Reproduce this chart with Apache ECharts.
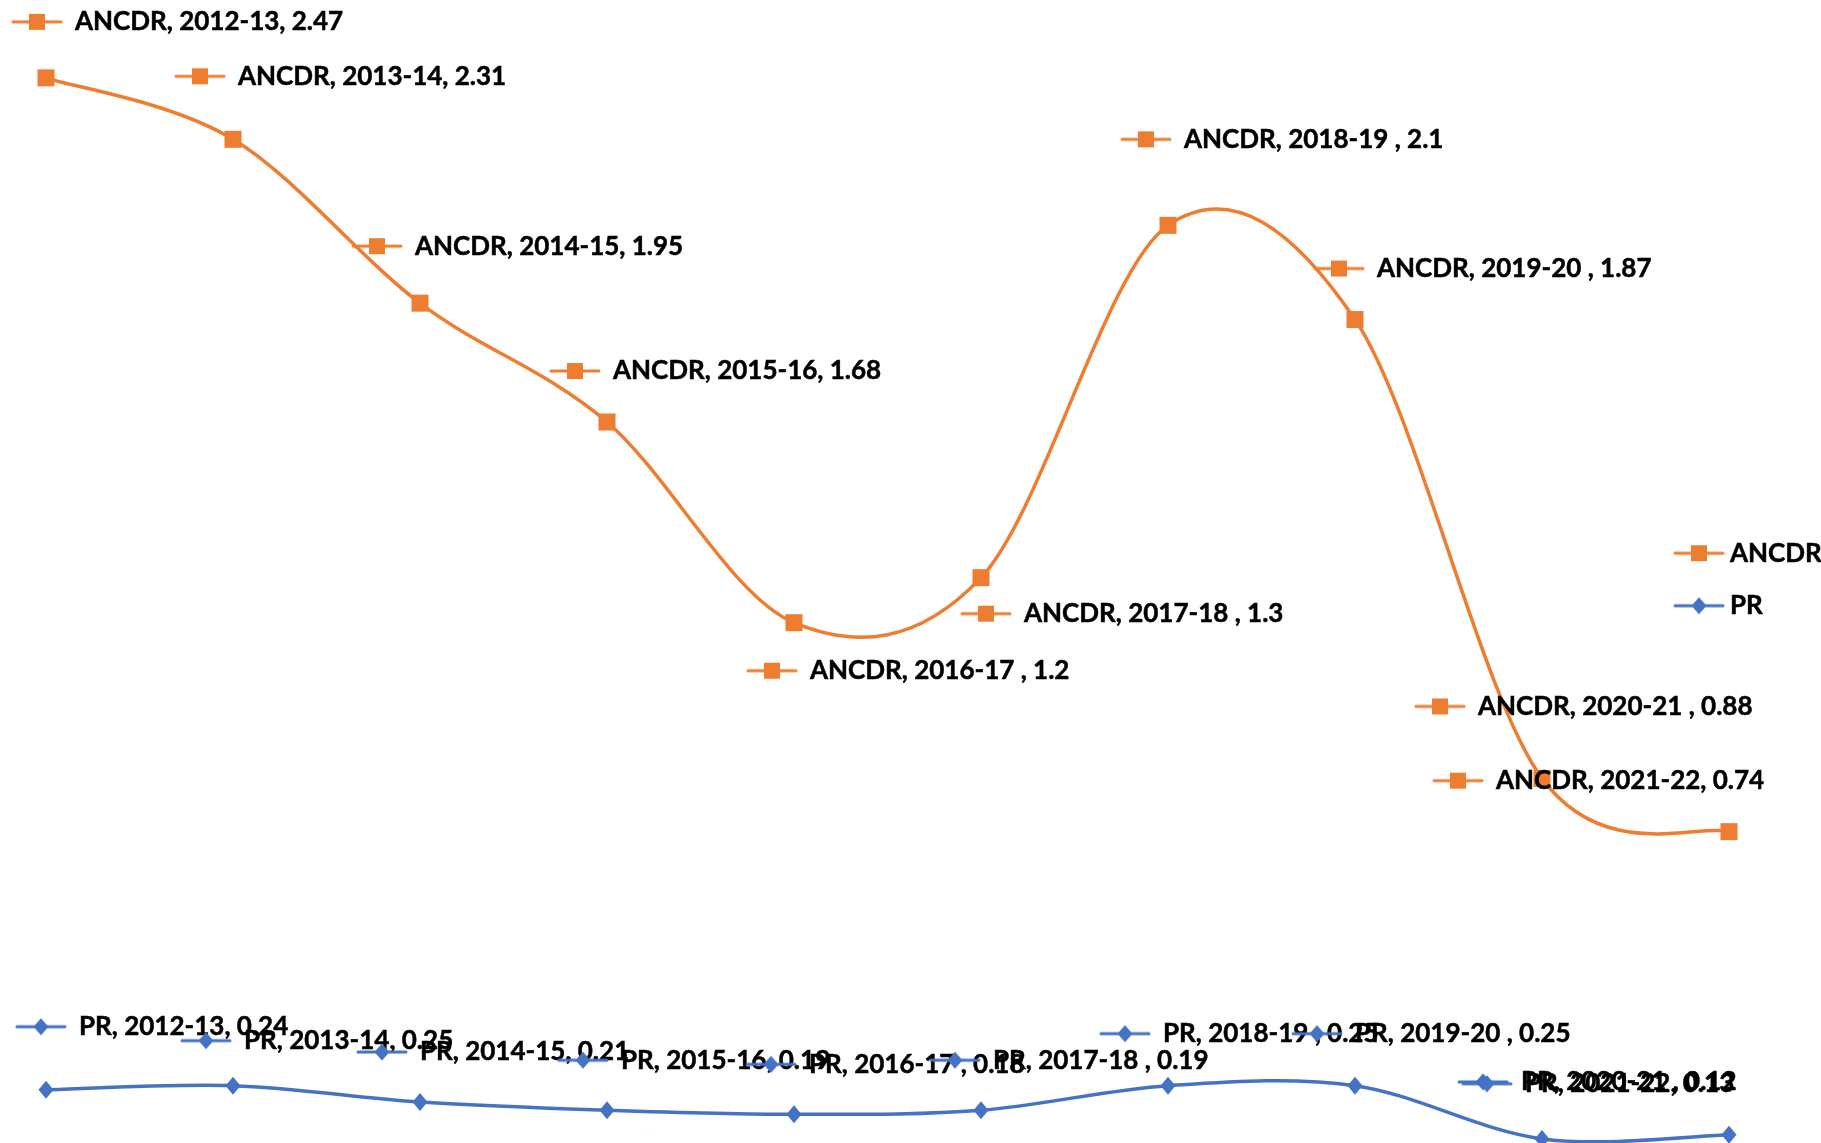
<!DOCTYPE html>
<html>
<head>
<meta charset="utf-8">
<script src="https://cdn.jsdelivr.net/npm/echarts@6/dist/echarts.min.js"></script>
<style>
html,body{margin:0;padding:0;background:#fff;}
#chart{width:1821px;height:1143px;}
</style>
</head>
<body>
<div id="chart"></div>
<script>
// ---- data ----
var categories = ['2012-13','2013-14','2014-15','2015-16','2016-17 ','2017-18 ','2018-19 ','2019-20 ','2020-21 ','2021-22'];
var ancdrValues = [2.47, 2.31, 1.95, 1.68, 1.2, 1.3, 2.1, 1.87, 0.88, 0.74];
var prValues = [0.24, 0.25, 0.21, 0.19, 0.18, 0.19, 0.25, 0.25, 0.12, 0.13];
var seriesNames = ['ANCDR', 'PR'];

// label placements (offset of label's left-middle from point, px)
var ancdrLabelOffsets = [[-35,-56],[-59,-63],[-69,-57],[-58,-51],[-48,48],[-21,36],[-48,-86],[-42,-51],[-128,-72],[-297,-51]];
var prLabelOffsets = [[-31,-63],[-53,-45],[-64,-50],[-50,-50],[-49,-50],[-52,-50],[-69,-52],[-64,-52],[-85,-57],[-268,-51]];

var ORANGE = '#ED7D31', BLUE = '#4472C4';
var FONT = 'Lato, "Open Sans", sans-serif';

// stacked line chart (PR at bottom, ANCDR stacked on top)
var ancdrStacked = ancdrValues.map(function (v, i) { return v + prValues[i]; });

function makeKey(color, shape) {
  var c = document.createElement('canvas');
  c.width = 52; c.height = 18;
  var g = c.getContext('2d');
  g.strokeStyle = color; g.lineWidth = 3; g.lineCap = 'round';
  g.beginPath(); g.moveTo(2, 9); g.lineTo(50, 9); g.stroke();
  g.fillStyle = color;
  if (shape === 'square') {
    g.fillRect(18, 1, 16, 16);
  } else {
    g.beginPath(); g.moveTo(26, 0.5); g.lineTo(33.5, 9); g.lineTo(26, 17.5); g.lineTo(18.5, 9); g.closePath(); g.fill();
  }
  return c;
}
var ancdrKey = makeKey(ORANGE, 'square');
var prKey = makeKey(BLUE, 'diamond');

var textStyleRich = { fontFamily: FONT, fontWeight: 'bold', fontSize: 26, color: '#000',
  textBorderColor: '#000', textBorderWidth: 0.5, padding: [0, 0, 0, 12] };

function labelData(values, offsets, name, key) {
  return values.map(function (v, i) {
    return {
      value: v,
      label: {
        show: true,
        position: 'inside',
        align: 'left',
        verticalAlign: 'middle',
        offset: offsets[i],
        formatter: '{k|}{t|' + name + ', ' + categories[i] + ', ' + v + '}',
        rich: {
          k: { width: 52, height: 18, backgroundColor: { image: key } },
          t: textStyleRich
        }
      }
    };
  });
}

// Excel-style smoothed curve (Catmull-Rom through the points, via the axes' scales)
function curveRenderer(values, color) {
  return function (params, api) {
    var i = params.dataIndex, n = values.length;
    if (i >= n - 1) return null;
    var p = function (k) { k = Math.max(0, Math.min(n - 1, k)); return api.coord([k, values[k]]); };
    var P0 = p(i - 1), P1 = p(i), P2 = p(i + 1), P3 = p(i + 2);
    return {
      type: 'bezierCurve',
      shape: {
        x1: P1[0], y1: P1[1], x2: P2[0], y2: P2[1],
        cpx1: P1[0] + (P2[0] - P0[0]) / 6, cpy1: P1[1] + (P2[1] - P0[1]) / 6,
        cpx2: P2[0] - (P3[0] - P1[0]) / 6, cpy2: P2[1] - (P3[1] - P1[1]) / 6
      },
      style: { fill: null, stroke: color, lineWidth: 3.5 }
    };
  };
}

var chart = echarts.init(document.getElementById('chart'), null, { renderer: 'canvas' });
chart.setOption({
  backgroundColor: '#fff',
  animation: false,
  grid: { left: 46, right: 92, top: 0, bottom: 0, containLabel: false },
  xAxis: { type: 'category', data: categories, boundaryGap: false, show: false },
  yAxis: { type: 'value', min: 0.11, max: 2.9, show: false },
  legend: {
    orient: 'vertical',
    left: 1673, top: 540, padding: 0,
    itemWidth: 52, itemHeight: 18, itemGap: 26,
    textStyle: { fontFamily: FONT, fontWeight: 'bold', fontSize: 26, color: '#000',
      textBorderColor: '#000', textBorderWidth: 0.5 },
    data: [
      { name: 'ANCDR', icon: 'image://' + ancdrKey.toDataURL() },
      { name: 'PR', icon: 'image://' + prKey.toDataURL() }
    ]
  },
  series: [
    {
      name: 'PR', type: 'custom', z: 1, clip: false,
      renderItem: curveRenderer(prValues, BLUE),
      data: prValues.map(function (v, i) { return [i, v]; }),
      itemStyle: { color: BLUE }
    },
    {
      name: 'ANCDR', type: 'custom', z: 1, clip: false,
      renderItem: curveRenderer(ancdrStacked, ORANGE),
      data: ancdrStacked.map(function (v, i) { return [i, v]; }),
      itemStyle: { color: ORANGE }
    },
    {
      name: 'PR points', type: 'line', stack: 'total', z: 3,
      symbol: 'diamond', symbolSize: [15, 18],
      lineStyle: { opacity: 0 },
      itemStyle: { color: BLUE },
      data: labelData(prValues, prLabelOffsets, 'PR', prKey)
    },
    {
      name: 'ANCDR points', type: 'line', stack: 'total', z: 3,
      symbol: 'rect', symbolSize: 17,
      lineStyle: { opacity: 0 },
      itemStyle: { color: ORANGE },
      data: labelData(ancdrValues, ancdrLabelOffsets, 'ANCDR', ancdrKey)
    }
  ]
});
</script>
</body>
</html>
